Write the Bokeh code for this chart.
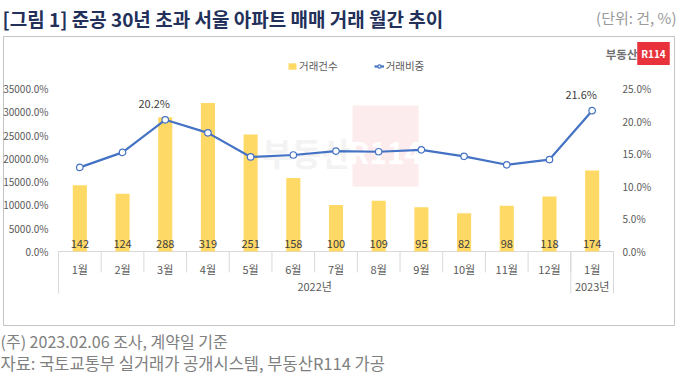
from bokeh.plotting import figure
from bokeh.models import (Range1d, Legend, LegendItem, Label, BoxAnnotation, ColumnDataSource)
from bokeh.core.properties import value
from bokeh.embed import file_html
from bokeh.resources import INLINE

# ---------------- data ----------------
months = ["1월", "2월", "3월", "4월", "5월", "6월", "7월", "8월", "9월", "10월", "11월", "12월", "1월"]
years = ["2022년", "2023년"]
year_spans = [12, 1]
counts = [142, 124, 288, 319, 251, 158, 100, 109, 95, 82, 98, 118, 174]
shares = [12.9, 15.2, 20.2, 18.2, 14.5, 14.8, 15.4, 15.3, 15.6, 14.6, 13.3, 14.1, 21.6]
count_ticks = [0, 50, 100, 150, 200, 250, 300, 350]
share_ticks = [0, 5, 10, 15, 20, 25]
labeled_points = [2, 12]

title_text = "[그림 1] 준공 30년 초과 서울 아파트 매매 거래 월간 추이"
unit_text = "(단위: 건, %)"
note_text = "(주) 2023.02.06 조사, 계약일 기준"
source_text = "자료: 국토교통부 실거래가 공개시스템, 부동산R114 가공"
legend_bar = "거래건수"
legend_line = "거래비중"

FONT = "Noto Sans CJK KR"
BAR_COLOR = "#FFD966"
LINE_COLOR = "#4472C4"
AXIS_TXT = "#595959"
GRID_C = "#d9d9d9"
BOX_C = "#c4c4c4"

# ---------------- geometry (pixels) ----------------
W, H = 680, 380
PLOT_L, PLOT_R = 58, 613        # category band
BASE_PX, TOP_TICK_PX = 251, 88  # rows of value 0 and of the highest tick
n = len(months)
cat_px = (PLOT_R - PLOT_L) / n
cnt_px = (BASE_PX - TOP_TICK_PX) / count_ticks[-1]
pct_px = (BASE_PX - TOP_TICK_PX) / share_ticks[-1]

p = figure(width=W, height=H, output_backend="svg", toolbar_location=None, title=None,
           x_axis_type=None, y_axis_type=None,
           x_range=Range1d(-PLOT_L / cat_px, (W - PLOT_L) / cat_px),
           y_range=Range1d(-(H - BASE_PX) / cnt_px, BASE_PX / cnt_px),
           min_border=0)
p.extra_y_ranges = {"pct": Range1d(-(H - BASE_PX) / pct_px, BASE_PX / pct_px)}
p.xgrid.visible = False
p.ygrid.visible = False
p.outline_line_color = None
p.background_fill_color = "white"
p.border_fill_color = "white"


def sy(py):  # screen units measured from the bottom of the canvas
    return H - py


def dx(px):  # canvas pixel column -> x data
    return (px - PLOT_L) / cat_px


def dy(py):  # canvas pixel row -> count data
    return (BASE_PX - py) / cnt_px


# ---------------- outer box & watermark ----------------
bx0, bx1, by0, by1 = dx(3), dx(674), dy(36), dy(325)
p.segment(x0=[bx0, bx0, bx0, bx1], y0=[by0, by1, by0, by0],
          x1=[bx1, bx1, bx0, bx1], y1=[by0, by1, by1, by1],
          line_color=BOX_C, line_width=1)
p.add_layout(BoxAnnotation(left=352, right=418, top=sy(105), bottom=sy(186),
                           left_units="screen", right_units="screen", top_units="screen", bottom_units="screen",
                           fill_color="#fdeced", fill_alpha=1, line_color=None, level="underlay"))
p.add_layout(Label(x=385, y=sy(150), x_units="screen", y_units="screen", text="R114",
                   text_font=FONT, text_font_size="30px", text_font_style="bold", text_color="white",
                   text_align="center", text_baseline="middle", level="underlay"))
p.add_layout(Label(x=306, y=sy(151), x_units="screen", y_units="screen", text="부동산",
                   text_font=FONT, text_font_size="32px", text_font_style="bold", text_color="#f3f3f3",
                   text_align="center", text_baseline="middle", level="underlay"))

# ---------------- category axis (drawn through the x scale) ----------------
xc = [i + 0.5 for i in range(n)]
bounds = list(range(n + 1))
starts = [sum(year_spans[:i]) for i in range(len(year_spans))]
ycent = [s + w / 2 for s, w in zip(starts, year_spans)]
ybounds = starts + [n]

p.segment(x0=[0], y0=[0], x1=[n], y1=[0], line_color=GRID_C, line_width=1)
p.segment(x0=bounds, y0=[0] * len(bounds), x1=bounds, y1=[-21 / cnt_px] * len(bounds),
          line_color=GRID_C, line_width=1)
p.segment(x0=ybounds, y0=[0] * len(ybounds), x1=ybounds, y1=[-42 / cnt_px] * len(ybounds),
          line_color=GRID_C, line_width=1)
p.text(x=xc, y=[0] * n, text=months, y_offset=17, text_align="center", text_baseline="middle",
       text_font=value(FONT), text_font_size="11px", text_color=AXIS_TXT)
p.text(x=ycent, y=[0] * len(ycent), text=years, y_offset=34, text_align="center", text_baseline="middle",
       text_font=value(FONT), text_font_size="11px", text_color=AXIS_TXT)

# ---------------- value axes (tick labels placed by the y scales) ----------------
p.text(x=[0] * len(count_ticks), y=count_ticks, text=["%.1f%%" % (t * 100) for t in count_ticks],
       x_offset=-10, text_align="right", text_baseline="middle",
       text_font=value(FONT), text_font_size="10px", text_color=AXIS_TXT)
p.text(x=[n] * len(share_ticks), y=share_ticks, text=["%.1f%%" % t for t in share_ticks],
       y_range_name="pct", x_offset=9, text_align="left", text_baseline="middle",
       text_font=value(FONT), text_font_size="10px", text_color=AXIS_TXT)

# ---------------- bars ----------------
src = ColumnDataSource(dict(x=xc, counts=counts, shares=shares, ctext=[str(c) for c in counts]))
bars = p.vbar(x="x", top="counts", width=0.33, source=src, fill_color=BAR_COLOR, line_color=None)
p.text(x="x", y=0, text="ctext", source=src, y_offset=-8, text_align="center", text_baseline="middle",
       text_font=value(FONT), text_font_size="11px", text_color="#404040")

# ---------------- line ----------------
ln = p.line(x="x", y="shares", source=src, y_range_name="pct", line_color=LINE_COLOR, line_width=2.2)
sc = p.scatter(x="x", y="shares", source=src, y_range_name="pct", size=6.5, marker="circle",
               fill_color="white", line_color=LINE_COLOR, line_width=1.2)
lab_src = ColumnDataSource(dict(x=[xc[i] for i in labeled_points],
                                y=[shares[i] for i in labeled_points],
                                t=["%.1f%%" % shares[i] for i in labeled_points]))
p.text(x="x", y="y", text="t", source=lab_src, y_range_name="pct", x_offset=-11, y_offset=-17,
       text_align="center", text_baseline="middle", text_font=value(FONT), text_font_size="11px",
       text_color="#404040")

# ---------------- legend ----------------
legend = Legend(items=[LegendItem(label=legend_bar, renderers=[bars]),
                       LegendItem(label=legend_line, renderers=[ln, sc])],
                orientation="horizontal", location=(287, sy(66) - 7),
                glyph_width=10, glyph_height=8, label_height=12, label_standoff=2, spacing=36,
                padding=0, margin=0, border_line_color=None, background_fill_alpha=0,
                label_text_font=FONT, label_text_font_size="10.5px", label_text_color=AXIS_TXT)
p.add_layout(legend)


# ---------------- texts ----------------
def screen_label(x, py, text, **kw):
    p.add_layout(Label(x=x, y=sy(py), x_units="screen", y_units="screen", text=text,
                       text_font=FONT, text_baseline="middle", **kw))


screen_label(2, 18, title_text, text_font_size="19px", text_font_style="bold",
             text_color="#22305a", text_align="left")
screen_label(676, 17, unit_text, text_font_size="15px", text_color="#9a9a9a", text_align="right")
screen_label(0, 340, note_text, text_font_size="16px", text_color="#808080", text_align="left")
screen_label(0, 362, source_text, text_font_size="16.5px", text_color="#808080", text_align="left")
# logo
screen_label(637, 53, "부동산", text_font_size="11.5px", text_font_style="bold",
             text_color="#707070", text_align="right")
p.add_layout(Label(x=653, y=sy(53), x_units="screen", y_units="screen", text="R114",
                   text_font=FONT, text_font_size="10px", text_font_style="bold", text_color="white",
                   text_align="center", text_baseline="middle", background_fill_color="#e8323c",
                   padding=4))

open("out.html", "w").write(file_html(p, INLINE))
